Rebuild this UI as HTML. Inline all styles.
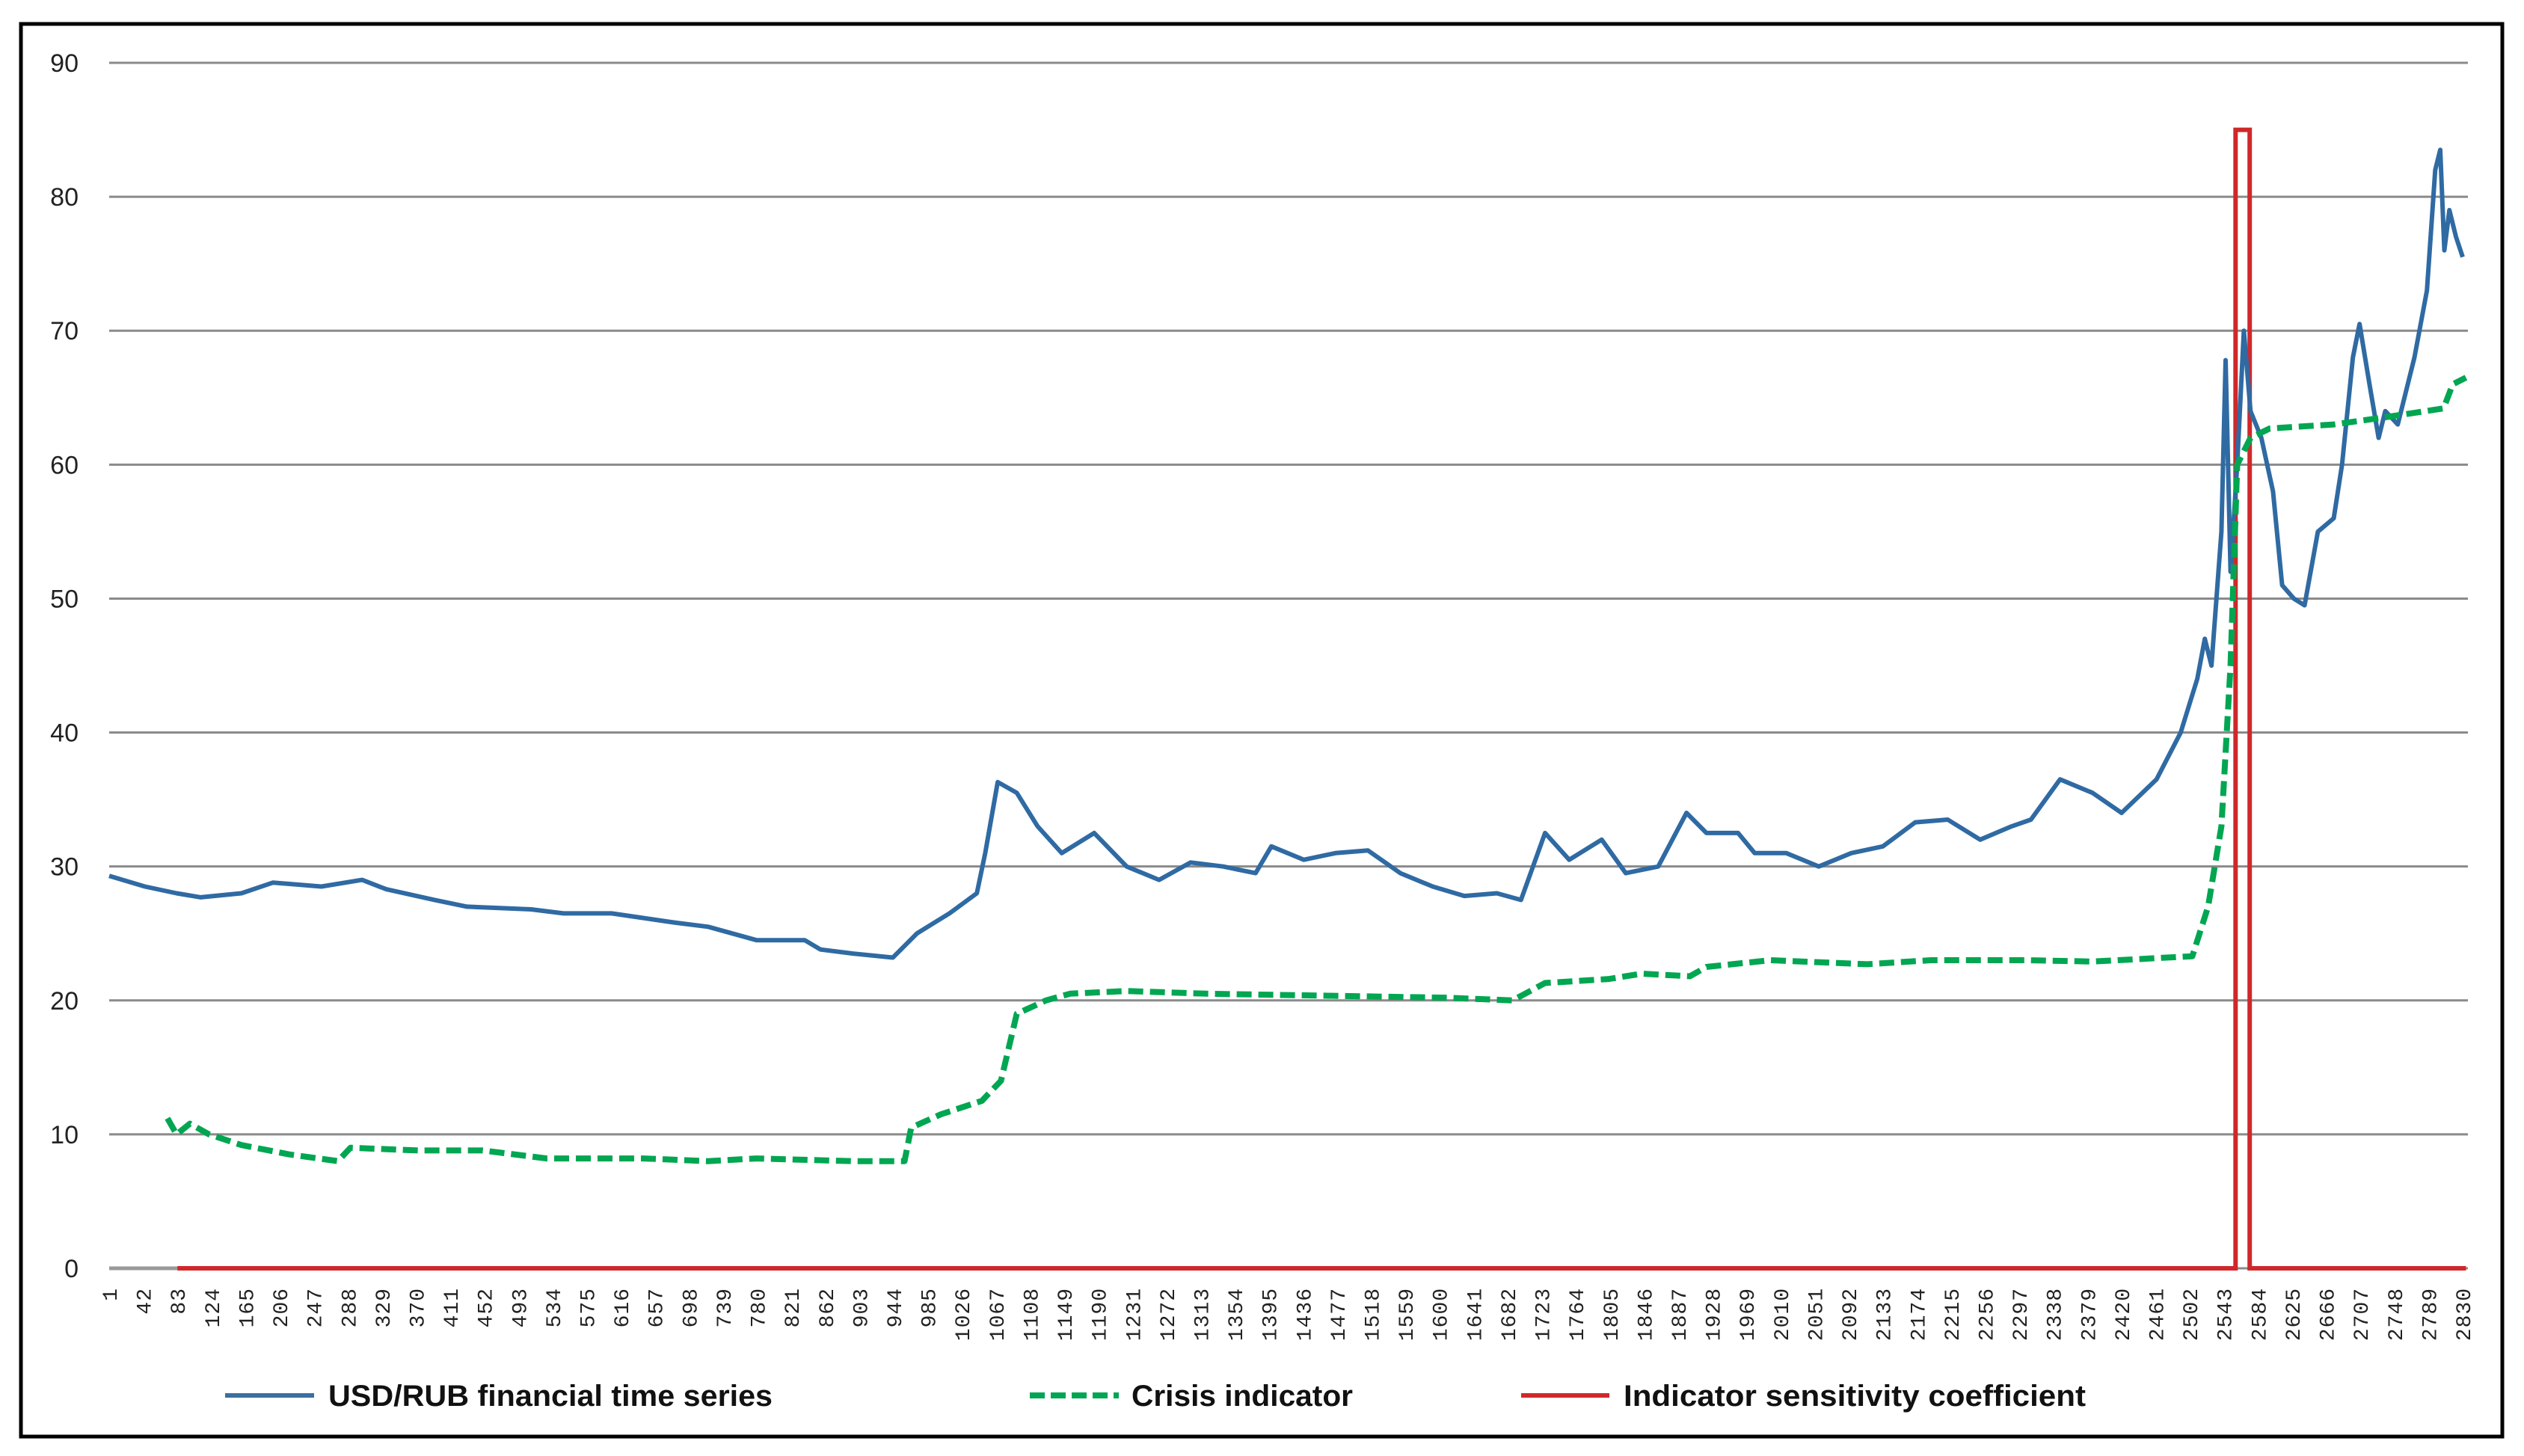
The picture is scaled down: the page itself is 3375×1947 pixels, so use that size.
<!DOCTYPE html>
<html><head><meta charset="utf-8"><style>
html,body{margin:0;padding:0;background:#fff;}
svg{display:block;}
text{font-family:"Liberation Sans",sans-serif;}
</style></head><body>
<svg id="chart" width="3375" height="1947" viewBox="0 0 3375 1947" xmlns="http://www.w3.org/2000/svg">
<rect x="28" y="32" width="3318" height="1889" fill="#fff" stroke="#000" stroke-width="5"/>
<g id="grid"></g>
<g id="ylabels"></g>
<g id="xlabels"></g>
<g id="series"></g>
<g>
 <g>
  <line x1="301" y1="1866" x2="420" y2="1866" stroke="#3a6fa0" stroke-width="6"/>
  <text x="439" y="1880" font-size="40" font-weight="bold" textLength="594" lengthAdjust="spacingAndGlyphs" fill="#111">USD/RUB financial time series</text>
 </g>
 <g>
  <line x1="1377" y1="1866" x2="1496" y2="1866" stroke="#00a651" stroke-width="8" stroke-dasharray="20 8"/>
  <text x="1513" y="1880" font-size="40" font-weight="bold" textLength="296" lengthAdjust="spacingAndGlyphs" fill="#111">Crisis indicator</text>
 </g>
 <g>
  <line x1="2034" y1="1866" x2="2152" y2="1866" stroke="#d0282a" stroke-width="6"/>
  <text x="2171" y="1880" font-size="40" font-weight="bold" textLength="618" lengthAdjust="spacingAndGlyphs" fill="#111">Indicator sensitivity coefficient</text>
 </g>
</g>
</svg>
<script>
const yTicks = [0,10,20,30,40,50,60,70,80,90];
const xTickStart = 1, xTickStep = 41, xTickCount = 70;
const usdIdx = [1,44,82,111,160,198,256,305,334,392,431,508,547,605,682,721,779,837,856,895,943,972,1011,1044,1054,1069,1092,1117,1146,1185,1224,1263,1301,1340,1379,1398,1437,1475,1514,1553,1592,1630,1669,1698,1727,1756,1795,1824,1863,1897,1921,1959,1979,2017,2056,2095,2133,2172,2211,2250,2288,2311,2346,2385,2420,2462,2491,2511,2520,2528,2540,2545,2551,2559,2567,2575,2588,2602,2613,2627,2640,2656,2675,2685,2698,2706,2718,2729,2737,2752,2772,2787,2797,2803,2808,2814,2822,2830];
const usdVal = [29.3,28.5,28,27.7,28,28.8,28.5,29,28.3,27.5,27,26.8,26.5,26.5,25.8,25.5,24.5,24.5,23.8,23.5,23.2,25,26.5,28,31,36.3,35.5,33,31,32.5,30,29,30.3,30,29.5,31.5,30.5,31,31.2,29.5,28.5,27.8,28,27.5,32.5,30.5,32,29.5,30,34,32.5,32.5,31,31,30,31,31.5,33.3,33.5,32,33,33.5,36.5,35.5,34,36.5,40,44,47,45,55,67.8,52,60,70,64,62,58,51,50,49.5,55,56,60,68,70.5,66,62,64,63,68,73,82,83.5,76,79,77,75.5];
const crisisIdx = [71,82,98,121,160,218,276,291,373,450,527,643,721,779,895,957,965,1001,1050,1073,1092,1127,1156,1224,1320,1417,1514,1611,1688,1727,1804,1843,1901,1921,1998,2114,2191,2307,2385,2505,2524,2540,2551,2559,2575,2598,2675,2733,2807,2818,2834];
const crisisVal = [11.2,10,10.8,10,9.2,8.5,8,9,8.8,8.8,8.2,8.2,8,8.2,8,8,10.5,11.5,12.5,14,19,20,20.5,20.7,20.5,20.4,20.3,20.2,20,21.3,21.6,22,21.8,22.5,23,22.7,23,23,22.9,23.3,27,33,45,60,62,62.7,63,63.5,64.2,66,66.5];
const sensIdx = [83,2557,2557,2574,2574,2834];
const sensVal = [0,0,85,85,0,0];

const NS = "http://www.w3.org/2000/svg";
const X0 = 146, X1 = 3293, Y0 = 1696, Y90 = 84, GRIDR = 3300;
function xs(i){ return X0 + (i-1)*(X1-X0)/2829; }
function ys(v){ return Y0 - v*(Y0-Y90)/90; }
function el(tag, attrs, parent){ const e=document.createElementNS(NS,tag); for(const k in attrs) e.setAttribute(k,attrs[k]); parent.appendChild(e); return e; }

const grid = document.getElementById('grid');
const yl = document.getElementById('ylabels');
yTicks.forEach(v=>{
  const l = el('line',{x1:X0,x2:GRIDR,y1:ys(v),y2:ys(v),stroke:'#8a8a8a','stroke-width':3},grid);
  
  
  const t = el('text',{x:105,y:ys(v)+12,'font-size':34,'text-anchor':'end',fill:'#222'},yl);
  
  
  t.textContent = v;
});
const xl = document.getElementById('xlabels');
for(let k=0;k<xTickCount;k++){
  const v = xTickStart + k*xTickStep;
  const x = xs(v);
  const t = el('text',{x:0,y:0,'font-size':28,'text-anchor':'end',fill:'#222',style:'font-family:"Liberation Mono",monospace;letter-spacing:1px',transform:`translate(${x+10},1722) rotate(-90)`},xl);
  
  
  t.textContent = v;
}
const sg = document.getElementById('series');
function pts(ix,vals){ return ix.map((i,k)=>xs(i).toFixed(1)+','+ys(vals[k]).toFixed(1)).join(' '); }
const base = el('line',{x1:X0,x2:xs(83),y1:Y0,y2:Y0,stroke:'#999','stroke-width':5},sg);


const red = el('polyline',{points:pts(sensIdx,sensVal),fill:'none',stroke:'#d0282a','stroke-width':6,'stroke-linejoin':'miter'},sg);


const blue = el('polyline',{points:pts(usdIdx,usdVal),fill:'none',stroke:'#2f6aa3','stroke-width':6,'stroke-linejoin':'round'},sg);


const green = el('polyline',{points:pts(crisisIdx,crisisVal),fill:'none',stroke:'#00a651','stroke-width':8,'stroke-dasharray':'20 9','stroke-linejoin':'round'},sg);


</script>
</body></html>
